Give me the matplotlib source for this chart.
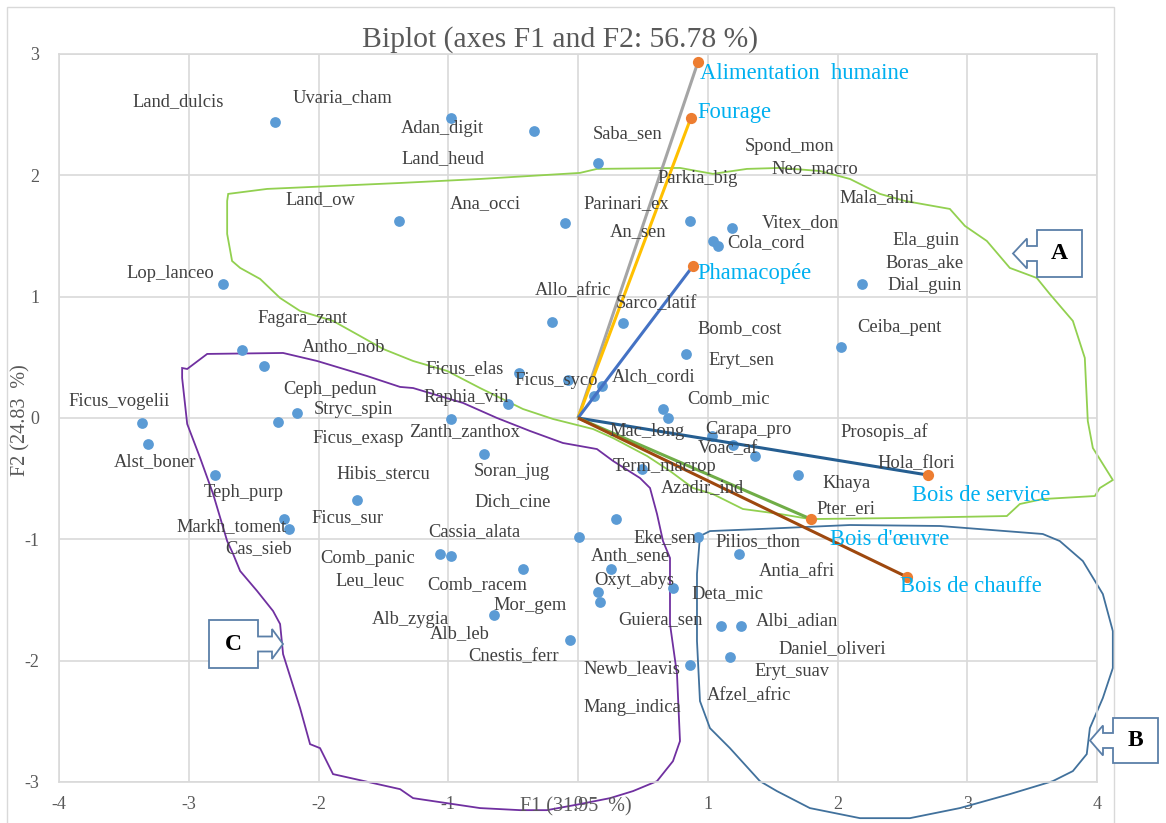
import matplotlib
matplotlib.use('Agg')
import matplotlib.pyplot as plt
from matplotlib.patches import Polygon, Rectangle

# ---------------- data ----------------
obs_f1 = [-2.334, -0.978, -0.339, 0.154, -1.379, -0.100, 0.863, 1.186, 1.040, 1.079,
          2.188, -2.735, -2.589, -2.419, -2.165, -2.311, -3.359, -3.313, -2.797, -1.703,
          -2.265, -2.227, -0.200, 0.347, 0.832, -0.455, -0.077, 0.185, 0.123, -0.539,
          -0.978, -0.724, 0.655, 0.693, 1.032, 1.194, 1.364, 0.493, 0.293, 0.008,
          0.925, 2.026, 1.695, -1.063, -0.978, -0.424, -0.647, -0.062, 0.254, 0.154,
          0.169, 0.732, 1.102, 1.256, 1.171, 0.863, 1.240]
obs_f2 = [2.440, 2.473, 2.366, 2.102, 1.624, 1.608, 1.624, 1.566, 1.459, 1.418,
          1.105, 1.105, 0.561, 0.429, 0.041, -0.033, -0.041, -0.214, -0.470, -0.676,
          -0.833, -0.915, 0.791, 0.783, 0.528, 0.371, 0.313, 0.264, 0.181, 0.115,
          -0.008, -0.297, 0.074, 0.000, -0.148, -0.223, -0.313, -0.420, -0.833, -0.981,
          -0.981, 0.585, -0.470, -1.121, -1.138, -1.245, -1.624, -1.830, -1.245, -1.434,
          -1.517, -1.401, -1.715, -1.715, -1.970, -2.036, -1.121]

species = ['Land_dulcis', 'Uvaria_cham', 'Adan_digit', 'Land_heud', 'Saba_sen', 'Spond_mon',
           'Neo_macro', 'Parkia_big', 'Land_ow', 'Ana_occi', 'Parinari_ex', 'Mala_alni',
           'An_sen', 'Vitex_don', 'Cola_cord', 'Ela_guin', 'Boras_ake', 'Dial_guin',
           'Lop_lanceo', 'Allo_afric', 'Sarco_latif', 'Fagara_zant', 'Bomb_cost', 'Ceiba_pent',
           'Antho_nob', 'Eryt_sen', 'Ficus_elas', 'Ficus_syco', 'Alch_cordi', 'Ceph_pedun',
           'Raphia_vin', 'Comb_mic', 'Ficus_vogelii', 'Stryc_spin', 'Zanth_zanthox', 'Mac_long',
           'Carapa_pro', 'Prosopis_af', 'Ficus_exasp', 'Voac_af', 'Alst_boner', 'Hola_flori',
           'Term_macrop', 'Soran_jug', 'Hibis_stercu', 'Khaya', 'Azadir_ind', 'Teph_purp',
           'Dich_cine', 'Pter_eri', 'Ficus_sur', 'Markh_toment', 'Cassia_alata', 'Eke_sen',
           'Pilios_thon', 'Cas_sieb', 'Anth_sene', 'Comb_panic', 'Antia_afri', 'Oxyt_abys',
           'Leu_leuc', 'Comb_racem', 'Deta_mic', 'Mor_gem', 'Alb_zygia', 'Guiera_sen',
           'Albi_adian', 'Alb_leb', 'Daniel_oliveri', 'Cnestis_ferr', 'Newb_leavis',
           'Eryt_suav', 'Afzel_afric', 'Mang_indica']
label_f1 = [-3.082, -1.818, -1.048, -1.040, 0.385, 1.633, 1.826, 0.924, -1.988, -0.716,
            0.370, 2.304, 0.462, 1.710, 1.448, 2.681, 2.673, 2.673, -3.143, -0.039,
            0.601, -2.126, 1.248, 2.481, -1.810, 1.256, -0.871, -0.169, 0.586, -1.911,
            -0.863, 1.163, -3.536, -1.733, -0.871, 0.532, 1.317, 2.357, -1.695, 1.156,
            -3.259, 2.604, 0.670, -0.508, -1.502, 2.072, 0.955, -2.573, -0.501, 2.065,
            -1.780, -2.673, -0.801, 0.670, 1.387, -2.458, 0.401, -1.618, 1.687, 0.431,
            -1.602, -0.778, 1.148, -0.370, -1.294, 0.639, 1.687, -0.909, 1.957, -0.493,
            0.416, 1.649, 1.317, 0.416]
label_f2 = [2.605, 2.638, 2.383, 2.135, 2.341, 2.234, 2.053, 1.970, 1.797, 1.764,
            1.764, 1.814, 1.533, 1.608, 1.443, 1.459, 1.278, 1.096, 1.187, 1.047,
            0.940, 0.816, 0.734, 0.742, 0.585, 0.470, 0.404, 0.305, 0.338, 0.239,
            0.173, 0.157, 0.140, 0.066, -0.115, -0.115, -0.091, -0.115, -0.173, -0.256,
            -0.363, -0.379, -0.396, -0.437, -0.462, -0.536, -0.577, -0.618, -0.692, -0.750,
            -0.824, -0.899, -0.940, -0.989, -1.022, -1.080, -1.138, -1.154, -1.270, -1.336,
            -1.344, -1.377, -1.451, -1.542, -1.657, -1.665, -1.674, -1.781, -1.904, -1.970,
            -2.069, -2.086, -2.284, -2.382]

variables = ['Alimentation  humaine', 'Fourage', 'Phamacopée',
             'Bois de service', "Bois d'œuvre", 'Bois de chauffe']
var_f1 = [0.925, 0.870, 0.886, 2.696, 1.795, 2.535]
var_f2 = [2.935, 2.473, 1.253, -0.470, -0.833, -1.310]
var_colors = ['#A5A5A5', '#FFC000', '#4472C4', '#255E91', '#70AD47', '#9E480E']
var_label_f1 = [0.94, 0.92, 0.917, 3.11, 2.404, 3.03]
var_label_f2 = [2.84, 2.52, 1.195, -0.635, -0.998, -1.385]
var_label_ha = ['left', 'left', 'left', 'center', 'center', 'center']

# group contours (hand-drawn envelopes)
groupA_f1 = [-2.696, -2.396, -1.371, -0.755, 0.015, 0.146, 0.786, 1.040, 1.302, 1.556,
             1.864, 2.096, 2.327, 2.519, 2.866, 2.982, 3.151, 3.328, 3.536, 3.636,
             3.814, 3.906, 3.929, 3.968, 4.122, 4.022, 3.983, 3.582, 3.405, 3.305,
             2.481, 1.787, 1.556, 1.271, 1.040, 0.886, 0.709, 0.532, 0.270, 0.116,
             -0.193, -0.424, -0.755, -1.009, -1.271, -1.502, -1.680, -1.888, -2.142, -2.296,
             -2.450, -2.604, -2.666, -2.704, -2.704]
groupA_f2 = [1.847, 1.888, 1.937, 1.970, 2.020, 2.053, 2.061, 2.012, 2.053, 2.061,
             2.036, 1.970, 1.847, 1.789, 1.723, 1.583, 1.459, 1.237, 1.154, 1.022,
             0.800, 0.495, -0.025, -0.247, -0.511, -0.577, -0.643, -0.668, -0.709, -0.808,
             -0.824, -0.833, -0.791, -0.750, -0.627, -0.577, -0.437, -0.313, -0.165, -0.091,
             -0.008, 0.074, 0.247, 0.388, 0.470, 0.569, 0.676, 0.800, 0.882, 0.989,
             1.146, 1.237, 1.294, 1.517, 1.789]
groupB_f1 = [0.940, 1.017, 1.402, 2.096, 2.789, 3.582, 3.713, 3.891, 4.045, 4.122,
             4.122, 4.045, 3.945, 3.921, 3.814, 3.659, 3.328, 2.943, 2.558, 2.173,
             1.787, 1.533, 1.402, 1.171, 1.017, 0.940, 0.917, 0.917]
groupB_f2 = [-0.973, -0.932, -0.915, -0.882, -0.890, -0.956, -1.014, -1.179, -1.451, -1.756,
             -2.061, -2.308, -2.556, -2.770, -2.910, -2.993, -3.100, -3.215, -3.298, -3.298,
             -3.215, -3.075, -2.993, -2.721, -2.556, -2.333, -1.838, -1.286]
groupC_f1 = [-3.051, -3.012, -2.858, -2.273, -2.011, -1.626, -1.371, -1.271, -0.886, -0.624,
             -0.370, -0.116, 0.146, 0.270, 0.478, 0.555, 0.609, 0.655, 0.709, 0.709,
             0.763, 0.786, 0.732, 0.609, 0.424, 0.247, 0.015, -0.239, -0.447, -0.755,
             -1.271, -1.371, -1.888, -1.988, -2.065, -2.142, -2.273, -2.296, -2.350, -2.473,
             -2.604, -2.658, -2.704, -2.812, -2.912, -3.012, -3.051]
groupC_f2 = [0.412, 0.404, 0.528, 0.536, 0.470, 0.346, 0.256, 0.247, 0.124, 0.000,
             -0.107, -0.206, -0.256, -0.354, -0.495, -0.577, -0.791, -1.014, -1.154, -1.698,
             -2.110, -2.663, -2.828, -2.993, -3.075, -3.133, -3.182, -3.232, -3.232, -3.215,
             -3.133, -3.059, -2.935, -2.721, -2.688, -2.391, -1.946, -1.698, -1.591, -1.426,
             -1.261, -1.121, -1.014, -0.627, -0.330, -0.049, 0.330]
group_colors = ['#92D050', '#41719C', '#7030A0']

x_ticks = [-4, -3, -2, -1, 0, 1, 2, 3, 4]
y_ticks = [-3, -2, -1, 0, 1, 2, 3]

title = 'Biplot (axes F1 and F2: 56.78 %)'
xlabel = 'F1 (31.95  %)'
ylabel = 'F2 (24.83  %)'

# ---------------- figure ----------------
W, H = 1166, 823
SERIF = ['Liberation Serif', 'DejaVu Serif']
fig = plt.figure(figsize=(W / 100, H / 100), dpi=100)
fig.patch.set_facecolor('white')

# outer chart border
fig.patches.append(Rectangle((7 / W, -0.01), (1114 - 7) / W, 1 - 7 / H + 0.01,
                             transform=fig.transFigure, fill=False,
                             edgecolor='#D9D9D9', linewidth=1.0))

ax = fig.add_axes([59 / W, 1 - 782 / H, (1097 - 59) / W, (782 - 54) / H])
ax.set_xlim(-4, 4)
ax.set_ylim(-3, 3)
ax.set_xticks(x_ticks)
ax.set_yticks(y_ticks)
ax.set_xticklabels([str(t) for t in x_ticks])
ax.set_yticklabels([str(t) for t in y_ticks])
ax.grid(True, color='#D9D9D9', linewidth=1.2)
ax.set_axisbelow(True)
for s in ax.spines.values():
    s.set_color('#D9D9D9')
    s.set_linewidth(1.2)
ax.tick_params(length=0, colors='#595959', labelsize=13)
ax.tick_params(axis='y', pad=14)
ax.tick_params(axis='x', pad=10)
for lab in ax.get_xticklabels() + ax.get_yticklabels():
    lab.set_family(SERIF)

# contours
for gx, gy, gc in [(groupA_f1, groupA_f2, group_colors[0]),
                   (groupB_f1, groupB_f2, group_colors[1]),
                   (groupC_f1, groupC_f2, group_colors[2])]:
    ax.add_patch(Polygon(list(zip(gx, gy)), closed=True, fill=False,
                         edgecolor=gc, linewidth=1.3, clip_on=False, zorder=2))

# observations
ax.scatter(obs_f1, obs_f2, s=60, color='#5B9BD5', zorder=4, linewidths=0)
for name, lx, ly in zip(species, label_f1, label_f2):
    ax.text(lx, ly, name, ha='center', va='center', fontsize=13.3,
            family=SERIF, color='#404040', zorder=6)

# variable vectors
for name, vx, vy, vc, tx, ty, tha in zip(variables, var_f1, var_f2, var_colors,
                                         var_label_f1, var_label_f2, var_label_ha):
    ax.plot([0, vx], [0, vy], color=vc, linewidth=2.2, zorder=5,
            solid_capstyle='butt')
    ax.scatter([vx], [vy], s=65, color='#ED7D31', zorder=7, linewidths=0)
    ax.text(tx, ty, name, ha=tha, va='center', fontsize=16.3, family=SERIF,
            color='#00B0F0', zorder=8)

# titles
fig.text(560 / W, 1 - 40 / H, title, ha='center', va='center', fontsize=21.3,
         family=SERIF, color='#595959')
fig.text(576 / W, 1 - 807 / H, xlabel, ha='center', va='center', fontsize=14.5,
         family=SERIF, color='#595959')
fig.text(21 / W, 1 - 420 / H, ylabel, ha='center', va='center', fontsize=14.5,
         family=SERIF, color='#595959', rotation=90)


# callout boxes (figure pixel geometry)
def to_fig(pts):
    return [(x / W, 1 - y / H) for x, y in pts]


def callout(left, top, right, bottom, tip_x, direction, letter):
    cy = (top + bottom) / 2
    hs = 7.5   # shaft half height
    hh = 15    # head half height
    if direction == 'left':
        base = left - 10
        pts = [(left, top), (right, top), (right, bottom), (left, bottom),
               (left, cy + hs), (base, cy + hs), (base, cy + hh), (tip_x, cy),
               (base, cy - hh), (base, cy - hs), (left, cy - hs)]
    else:
        base = right + 14
        pts = [(left, top), (right, top), (right, cy - hs), (base, cy - hs),
               (base, cy - hh), (tip_x, cy), (base, cy + hh), (base, cy + hs),
               (right, cy + hs), (right, bottom), (left, bottom)]
    fig.patches.append(Polygon(to_fig(pts), closed=True, transform=fig.transFigure,
                               facecolor='white', edgecolor='#5B7FA8', linewidth=1.3,
                               zorder=10))
    fig.text((left + right) / 2 / W, 1 - cy / H, letter, ha='center', va='center',
             fontsize=17, fontweight='bold', family=SERIF, color='black', zorder=11)


callout(1037, 230, 1082, 277, 1013, 'left', 'A')
callout(1113, 718, 1158, 763, 1090, 'left', 'B')
callout(209, 620, 258, 668, 283, 'right', 'C')

fig.savefig('out.png', dpi=100, facecolor='white')
